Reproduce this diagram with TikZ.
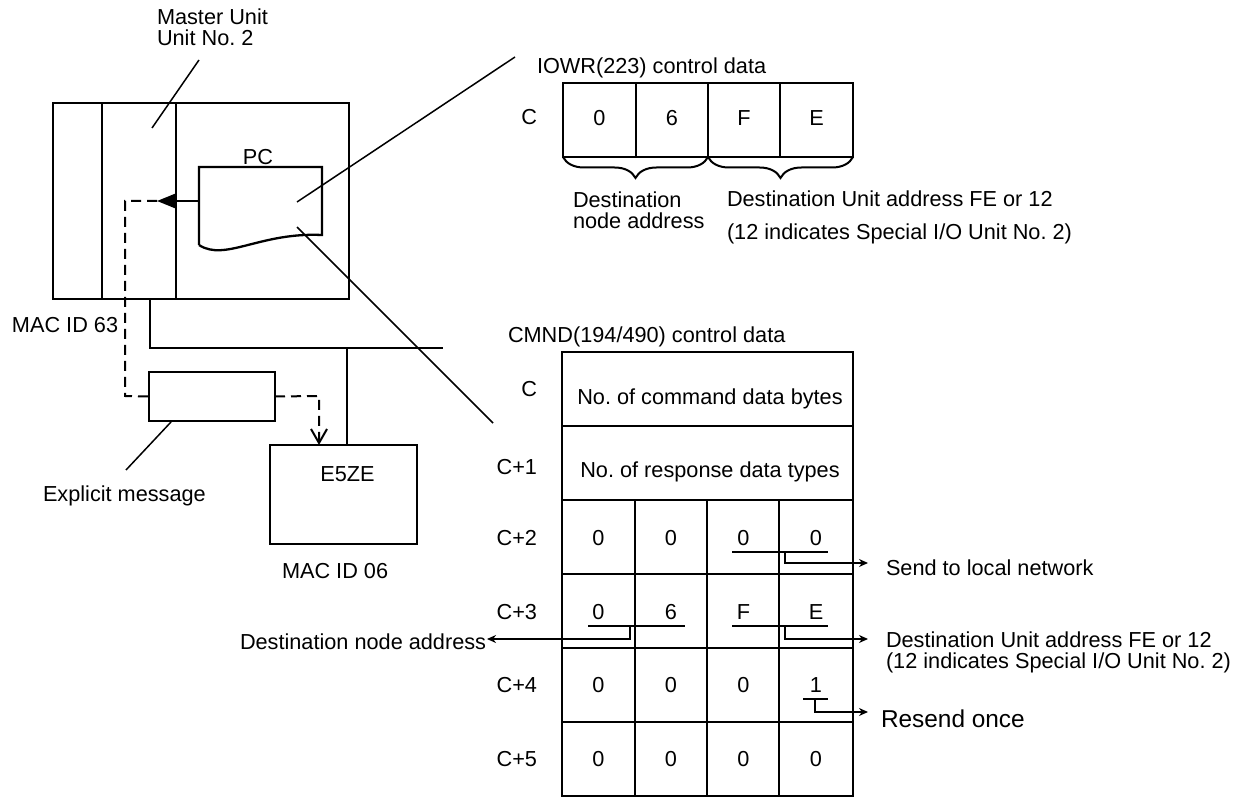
\documentclass[tikz,border=0pt]{standalone}
\usepackage{fontspec}
\setmainfont{Liberation Sans}
\usetikzlibrary{arrows.meta,decorations.pathreplacing}
\begin{document}
\begin{tikzpicture}[x=1pt,y=-1pt,
  txt/.style={font=\fontsize{21.7}{21.7}\selectfont, inner sep=0pt, outer sep=0pt},
  bigtxt/.style={font=\fontsize{24.4}{24.4}\selectfont, inner sep=0pt, outer sep=0pt},
  boxline/.style={line width=2.5pt},
  divline/.style={line width=2pt},
  leader/.style={line width=1.5pt},
  thinarrow/.style={line width=1.5pt, -{Stealth[length=9pt,width=8pt]}},
  dashline/.style={line width=2pt, dash pattern=on 10pt off 6pt},
  emptybox/.style={draw, boxline, inner sep=0pt, outer sep=0pt, anchor=north west},
  bracestyle/.style={line width=2pt, decorate, decoration={brace, amplitude=21pt, mirror}},
]
\useasboundingbox (0,0) rectangle (1240,799);

% ---------------- PLC ----------------
\node[emptybox, line width=2.7pt, minimum width=296pt, minimum height=196pt] (plc) at (53,103) {};
\draw[divline] (102,103) -- (102,299);
\draw[divline] (176,103) -- (176,299);
\draw[line width=2.3pt, line join=miter] (199,245) -- (199,167) -- (322,167) -- (322,235)
   .. controls (260,232) and (225,262) .. (199,245);
\node[txt, anchor=base] (pclabel) at (258,165) {PC};

\coordinate (pcL) at (199,201);
\coordinate (tip) at (157,201);
\coordinate (pcA) at (297,202);
\coordinate (pcB) at (297,227);
\draw[line width=2pt, -{Triangle[length=18pt,width=14pt]}] (pcL) -- (tip);

% labels
\node[txt, anchor=base west] (mu1) at (157,25) {Master Unit};
\node[txt, anchor=base west] (mu2) at (157,46) {Unit No.\ 2};
\coordinate (muA) at (199,60);
\coordinate (muB) at (152,128);
\draw[leader] (muA) -- (muB);

\node[txt, anchor=base west] (mac63) at (12,333) {MAC ID 63};

% network
\coordinate (n1) at (150,299);
\coordinate (n2) at (150,348);
\coordinate (n3) at (443,348);
\coordinate (n4) at (347,348);
\draw[line width=2.6pt] (n1) -- (n2) -- (n3);

% explicit message box
\node[emptybox, minimum width=126pt, minimum height=49pt] (em) at (149,372) {};
\coordinate (emA) at (171,422);
\coordinate (emB) at (126,470);
\draw[leader] (emA) -- (emB);
\node[txt, anchor=base west] (emlabel) at (43,501) {Explicit message};

% E5ZE box
\node[emptybox, minimum width=147pt, minimum height=99pt] (e5) at (270,445) {};
\draw[line width=2.6pt] (n4) -- (n4 |- e5.north);
\node[txt, anchor=base] (e5label) at (347.5,482) {E5ZE};
\node[txt, anchor=base west] (mac06) at (282,578) {MAC ID 06};

% dashed message path
\coordinate (dA) at (125,201);
\coordinate (dB) at (125,396);
\coordinate (dC) at (319,396);
\draw[dashline] (tip) -- (dA) -- (dB) -- (em.west);
\draw[dashline, -{Straight Barb[length=14pt,width=16pt]}] (em.east) -- (dC) -- (dC |- e5.north);

% leaders from PC
\coordinate (ioA) at (515,57);
\coordinate (cmA) at (493,423);
\draw[leader] (pcA) -- (ioA);
\draw[leader] (pcB) -- (cmA);

% ---------------- IOWR table ----------------
\node[txt, anchor=base west] (iowrtitle) at (537,74) {IOWR(223) control data};
\node[emptybox, minimum width=290pt, minimum height=74pt] (iowr) at (563,83) {};
\foreach \x in {636,708,780} \draw[divline] (\x,83) -- (\x,157);
\node[txt, anchor=base east] (iowrC) at (537,125) {C};
\node[txt, anchor=base] (iw1) at (599.5,126) {0};
\node[txt, anchor=base] (iw2) at (672,126) {6};
\node[txt, anchor=base] (iw3) at (744,126) {F};
\node[txt, anchor=base] (iw4) at (816.5,126) {E};
\draw[bracestyle] (563,157) -- (708,157);
\draw[bracestyle] (708,157) -- (853,157);
\node[txt, anchor=base west] (dn1) at (573,208) {Destination};
\node[txt, anchor=base west] (dn2) at (573,229) {node address};
\node[txt, anchor=base west] (du1) at (727,207) {Destination Unit address FE or 12};
\node[txt, anchor=base west] (du2) at (727,240) {(12 indicates Special I/O Unit No.\ 2)};

% ---------------- CMND table ----------------
\node[txt, anchor=base west] (cmndtitle) at (508,343) {CMND(194/490) control data};
\node[emptybox, minimum width=291pt, minimum height=444pt] (cmnd) at (562,352) {};
\foreach \y in {426,500,574,648,722} \draw[boxline] (562,\y) -- (853,\y);
\foreach \x in {635,707,779} \draw[divline] (\x,500) -- (\x,796);

\node[txt, anchor=base east] (rC) at (537,397) {C};
\node[txt, anchor=base east] (rC1) at (537,475) {C+1};
\node[txt, anchor=base east] (rC2) at (537,545) {C+2};
\node[txt, anchor=base east] (rC3) at (537,619) {C+3};
\node[txt, anchor=base east] (rC4) at (537,692) {C+4};
\node[txt, anchor=base east] (rC5) at (537,766) {C+5};

\node[txt, anchor=base] (cmdbytes) at (710,405) {No.\ of command data bytes};
\node[txt, anchor=base] (resptypes) at (710,477) {No.\ of response data types};

\foreach \v [count=\i] in {0,0,0,0} \node[txt, anchor=base] (a\i) at ({598.5+72.5*(\i-1)},545) {\v};
\foreach \v [count=\i] in {0,6,F,E} \node[txt, anchor=base] (b\i) at ({598.5+72.5*(\i-1)},619) {\v};
\foreach \v [count=\i] in {0,0,0,1} \node[txt, anchor=base] (c\i) at ({598.5+72.5*(\i-1)},692) {\v};
\foreach \v [count=\i] in {0,0,0,0} \node[txt, anchor=base] (d\i) at ({598.5+72.5*(\i-1)},766) {\v};

% underlines and pointers
\coordinate (s1) at (785,552);
\coordinate (s2) at (868,563);
\draw[leader] (732,552) -- (828,552);
\draw[thinarrow] (s1) |- (s2);

\coordinate (p1) at (630,626);
\coordinate (p2) at (487,639);
\draw[leader] (588,626) -- (685,626);
\draw[thinarrow] (p1) |- (p2);

\coordinate (q1) at (785,626);
\coordinate (q2) at (868,639);
\draw[leader] (732,626) -- (828,626);
\draw[thinarrow] (q1) |- (q2);

\coordinate (r1) at (815,699);
\coordinate (r2) at (868,712);
\draw[leader] (803,699) -- (828,699);
\draw[thinarrow] (r1) |- (r2);

\node[txt, anchor=base west] (dnaddr) at (240,649) {Destination node address};
\node[txt, anchor=base west] (sendlocal) at (886,575) {Send to local network};
\node[txt, anchor=base west] (du3) at (886,647) {Destination Unit address FE or 12};
\node[txt, anchor=base west] (du4) at (886,668) {(12 indicates Special I/O Unit No.\ 2)};
\node[bigtxt, anchor=base west] (resend) at (881,727) {Resend once};
\end{tikzpicture}
\end{document}
